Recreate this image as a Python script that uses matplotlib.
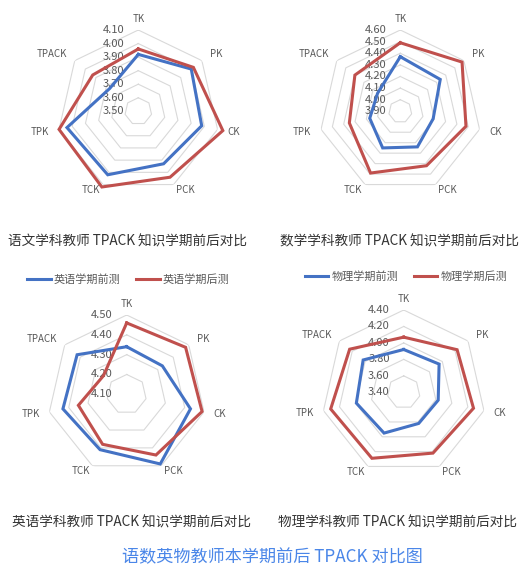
import numpy as np
import matplotlib
matplotlib.use("Agg")
import matplotlib.pyplot as plt
import matplotlib.transforms as mtransforms

plt.rcParams["font.family"] = ["Noto Sans CJK SC", "DejaVu Sans"]

# ---------------------------------------------------------------------------
# Data
# ---------------------------------------------------------------------------
CATEGORIES = ["TK", "PK", "CK", "PCK", "TCK", "TPK", "TPACK"]

chinese_pre = [3.92, 4.00, 3.98, 3.93, 4.02, 4.04, 3.77]
chinese_post = [3.96, 4.02, 4.14, 4.04, 4.12, 4.10, 3.93]

math_pre = [4.37, 4.34, 4.19, 4.24, 4.25, 4.17, 4.15]
math_post = [4.49, 4.58, 4.48, 4.42, 4.49, 4.35, 4.40]

english_pre = [4.34, 4.33, 4.43, 4.49, 4.41, 4.43, 4.42]
english_post = [4.46, 4.48, 4.49, 4.44, 4.38, 4.35, 4.25]

physics_pre = [3.92, 3.95, 3.83, 3.82, 3.95, 3.99, 4.03]
physics_post = [4.07, 4.23, 4.27, 4.22, 4.29, 4.31, 4.24]

chinese_ticks = [3.50, 3.60, 3.70, 3.80, 3.90, 4.00, 4.10]
math_ticks = [3.90, 4.00, 4.10, 4.20, 4.30, 4.40, 4.50, 4.60]
english_ticks = [4.10, 4.20, 4.30, 4.40, 4.50]
physics_ticks = [3.40, 3.60, 3.80, 4.00, 4.20, 4.40]

captions = [
    "语文学科教师 TPACK 知识学期前后对比",
    "数学学科教师 TPACK 知识学期前后对比",
    "英语学科教师 TPACK 知识学期前后对比",
    "物理学科教师 TPACK 知识学期前后对比",
]
legend_labels = {
    "english": ["英语学期前测", "英语学期后测"],
    "physics": ["物理学期前测", "物理学期后测"],
}
TITLE = "语数英物教师本学期前后 TPACK 对比图"

# ---------------------------------------------------------------------------
# Style / layout (pixels)
# ---------------------------------------------------------------------------
W, H = 524, 566
BLUE = "#4472C4"
RED = "#C0504D"
GRID = "#d9d9d9"
TXT = "#595959"

fig = plt.figure(figsize=(W / 100, H / 100), dpi=100)


def radar(cx, cy, R, ticks, pre, post):
    ax = fig.add_axes([(cx - R) / W, 1 - (cy + R) / H, 2 * R / W, 2 * R / H],
                      projection="polar")
    ax.set_theta_zero_location("N")
    ax.set_theta_direction(-1)
    rmin, rmax = ticks[0], ticks[-1]
    ax.set_ylim(rmin, rmax)
    ax.set_xticks([])
    ax.set_yticks([])
    ax.grid(False)
    ax.spines["polar"].set_visible(False)
    ax.patch.set_alpha(0)

    n = len(CATEGORIES)
    theta = np.linspace(0, 2 * np.pi, n, endpoint=False)
    th_c = np.append(theta, theta[0])

    # heptagon rings
    for v in ticks[1:]:
        ax.plot(th_c, [v] * (n + 1), color=GRID, lw=0.8, zorder=1)

    l1, = ax.plot(th_c, pre + pre[:1], color=BLUE, lw=2.2, zorder=3,
                  clip_on=False, solid_joinstyle="miter")
    l2, = ax.plot(th_c, post + post[:1], color=RED, lw=2.2, zorder=3,
                  clip_on=False, solid_joinstyle="miter")

    # category labels
    per_px = (rmax - rmin) / R
    for t, name in zip(theta, CATEGORIES):
        s, c = np.sin(t), np.cos(t)
        if abs(s) < 0.1:
            ha, pad = "center", 11
        else:
            ha = "left" if s > 0 else "right"
            pad = 6 if c < -0.5 else 10
        ax.text(t, rmax + pad * per_px, name, ha=ha, va="center",
                fontsize=7, color=TXT, clip_on=False)

    # value labels left of the TK axis
    trans = mtransforms.offset_copy(ax.transData, fig=fig, x=-14, y=0,
                                    units="dots")
    for v in ticks:
        ax.text(0, v, f"{v:.2f}", transform=trans, ha="right", va="center",
                fontsize=8, color=TXT, clip_on=False, zorder=2)
    return l1, l2


radar(138.3, 111.3, 81.3, chinese_ticks, chinese_pre, chinese_post)
radar(400.3, 111.3, 81.3, math_ticks, math_pre, math_post)
e1, e2 = radar(126.7, 394.3, 79.3, english_ticks, english_pre, english_post)
p1, p2 = radar(403.7, 392.3, 82.3, physics_ticks, physics_pre, physics_post)

for handles, labels, (lx, ly) in [((e1, e2), legend_labels["english"], (128.5, 280)),
                                  ((p1, p2), legend_labels["physics"], (406, 277))]:
    leg = fig.legend(handles, labels, loc="center", ncol=2, frameon=False,
                     bbox_to_anchor=(lx / W, 1 - ly / H),
                     bbox_transform=fig.transFigure, fontsize=8,
                     handlelength=2.1, handletextpad=0.3, columnspacing=1.4,
                     borderpad=0)
    for t in leg.get_texts():
        t.set_color(TXT)

for (x, y), cap in zip([(128, 241.5), (400, 241.5), (132, 522.5), (397, 522.5)],
                       captions):
    fig.text(x / W, 1 - y / H, cap, ha="center", va="center",
             fontsize=9.8, color="#333333")

fig.text(272 / W, 1 - 557 / H, TITLE, ha="center", va="center",
         fontsize=12.3, color="#4a86e8")

fig.savefig("out.png", dpi=100)
